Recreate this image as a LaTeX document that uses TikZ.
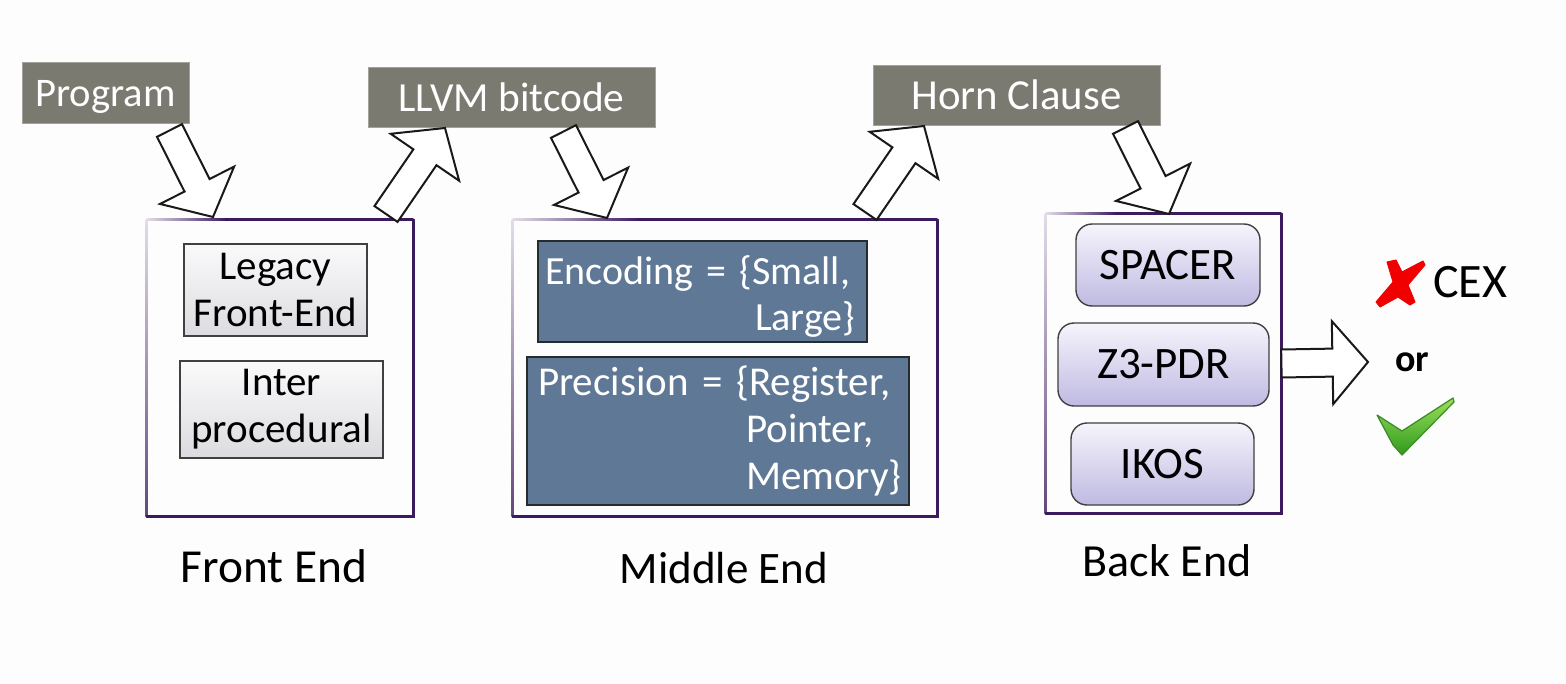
\documentclass[tikz,border=0pt]{standalone}
\usepackage{fontspec}
\setmainfont{Carlito}
\usetikzlibrary{calc}
\definecolor{pagebg}{HTML}{FDFDFD}
\definecolor{tagfill}{HTML}{7A7A70}
\definecolor{panelline}{HTML}{3B1A5E}
\definecolor{bluefill}{HTML}{5F7896}
\definecolor{blueline}{HTML}{262B30}
\definecolor{lavbot}{HTML}{BFBAE2}
\definecolor{lavtop}{HTML}{F6F4FC}
\definecolor{greytop}{HTML}{FAFAFB}
\definecolor{greybot}{HTML}{DCDCE0}
\definecolor{crossred}{HTML}{F00000}
\definecolor{ticktop}{HTML}{9ADF5A}
\definecolor{tickbot}{HTML}{2F9A1E}
\definecolor{tickline}{HTML}{3C8A26}
\tikzset{
  tagbox/.style={fill=tagfill,draw=tagfill!70!white,line width=.3pt,text=white,inner sep=0pt,text height=14.5pt,text depth=0pt},
  panelbox/.style={inner sep=0pt},
  greybox/.style={draw=black!75,line width=.6pt,top color=greytop,bottom color=greybot,inner sep=0pt,align=center,font=\fontsize{20.5}{23.6}\selectfont},
  bluebox/.style={draw=blueline,line width=.9pt,fill=bluefill,text=white,inner ysep=0pt,align=left},
  lavbox/.style={draw=black!75,line width=.7pt,rounded corners=8pt,top color=lavtop,bottom color=lavbot,inner sep=0pt,text height=14pt,text depth=0pt,font=\fontsize{22.5}{24}\selectfont},
  caption/.style={anchor=base,inner sep=0pt,font=\fontsize{23}{27}\selectfont},
  blockarrow/.style={draw=black!90,line width=1pt,fill=white,line join=miter},
}
% block arrow from tail #1 to tip #2
\newcommand{\blockarrow}[2]{%
  \draw[blockarrow]
    ($(#1)!7pt!90:(#2)$) --
    ($(#2)!17.75pt!(#1)!7pt!-90:(#1)$) --
    ($(#2)!17.75pt!(#1)!20.75pt!-90:(#1)$) --
    (#2) --
    ($(#2)!17.75pt!(#1)!20.75pt!90:(#1)$) --
    ($(#2)!17.75pt!(#1)!7pt!90:(#1)$) --
    ($(#1)!7pt!-90:(#2)$) -- cycle;}
% hand-drawn looking panel outline: faded at the top left
\newcommand{\panelframe}[1]{%
  \fill[left color=panelline!15,right color=panelline] ($(#1.north west)+(0,.6pt)$) rectangle ($($(#1.north west)!.3!(#1.north east)$)+(0,-.6pt)$);
  \fill[panelline] ($($(#1.north west)!.3!(#1.north east)$)+(0,.6pt)$) rectangle ($(#1.north east)+(0,-.6pt)$);
  \fill[top color=panelline!15,bottom color=panelline!80] ($(#1.north west)+(-.5pt,0)$) rectangle ($(#1.south west)+(.5pt,0)$);
  \draw[panelline,line width=1.2pt,line cap=round] (#1.north east) -- (#1.south east) -- (#1.south west);}
\begin{document}
\begin{tikzpicture}[x=.5pt,y=-.5pt]
\useasboundingbox[fill=pagebg] (0,0) rectangle (1566,684);

% panels
\node[panelbox,minimum width=133pt,minimum height=148pt] (front) at (280,368) {};
\node[panelbox,minimum width=212pt,minimum height=148pt] (middle) at (725,368) {};
\node[panelbox,minimum width=117.5pt,minimum height=149.5pt] (back) at (1163.5,363.5) {};
\panelframe{front}
\panelframe{middle}
\panelframe{back}

% tags
\node[tagbox,font=\fontsize{20.3}{24}\selectfont,minimum width=83.5pt,minimum height=30.5pt] (program) at (105.5,92.5) {Program};
\node[tagbox,font=\fontsize{20.7}{24}\selectfont,minimum width=143.5pt,minimum height=30pt] (llvm) at (511.5,97) {LLVM bitcode};
\node[tagbox,font=\fontsize{21.4}{24}\selectfont,minimum width=143.5pt,minimum height=30pt] (horn) at (1016.5,95) {Horn Clause};

% front end
\node[greybox,minimum width=91.5pt,minimum height=46pt] (legacy) at (275.5,290) {Legacy\\Front-End};
\node[greybox,minimum width=101.5pt,minimum height=48.5pt] (inter) at (281.5,409.5) {Inter\\procedural};

% middle end
\node[bluebox,font=\fontsize{20}{24}\selectfont,minimum width=164.5pt,minimum height=50.5pt,inner xsep=3.5pt,text width=157.5pt] (encoding) at (702.5,291.5)
  {\raisebox{-2.2pt}{Encoding = \{Small,}\\\hspace*{105pt}\raisebox{-1.5pt}[0pt][0pt]{Large\}}};
\node[bluebox,font=\fontsize{20.5}{23.7}\selectfont,minimum width=191pt,minimum height=74pt,inner xsep=5.5pt,text width=180pt] (precision) at (718,431)
  {Precision = \{Register,\\\hspace*{104pt}Pointer,\\\hspace*{104pt}\mbox{Memory\}}};

% back end
\node[lavbox,minimum width=92pt,minimum height=41pt] (spacer) at (1168,265) {SPACER};
\node[lavbox,minimum width=105.5pt,minimum height=41.5pt] (z3) at (1163.5,364.5) {Z3-PDR};
\node[lavbox,minimum width=91.5pt,minimum height=41pt] (ikos) at (1162.5,464) {IKOS};

% captions
\node[caption,font=\fontsize{23.7}{27}\selectfont] (frontcap) at (274,582) {Front End};
\node[caption,font=\fontsize{22.5}{27}\selectfont] (middlecap) at (724,583) {Middle End};
\node[caption] (backcap) at (1167,576) {Back End};

% results
\node[anchor=base,inner sep=0pt,font=\fontsize{24}{24}\selectfont] (cex) at (1470,297) {CEX};
\node[anchor=base,inner sep=0pt,font=\fontsize{19}{24}\bfseries\selectfont] (ortext) at (1412,371) {or};
\fill[crossred,draw=crossred,line width=.5pt,line join=round]
  (1387,262) -- (1396,260) -- (1402,272) -- (1423,261) -- (1425,265) -- (1408,285)
  -- (1415,302) -- (1410,305) -- (1398,297) -- (1380,307) -- (1376,302) -- (1393,282) -- cycle;
\path[top color=ticktop,bottom color=tickbot,draw=tickline,line width=.6pt,line join=round]
  (1377,415) -- (1402,431) -- (1453,398) -- (1454,402) -- (1402,455) -- (1393,445) -- cycle;

% connectors
\coordinate (a1t) at (169.5,130.5);
\coordinate (a1h) at (213,217);
\coordinate (a2t) at (386,214);
\coordinate (a2h) at (445,128);
\coordinate (a3t) at (563.5,131.5);
\coordinate (a3h) at (607,218);
\coordinate (a4t) at (865,212);
\coordinate (a4h) at (924,126);
\coordinate (a5t) at (1125.5,127.5);
\coordinate (a5h) at (1169,214);
\coordinate (a6t) at (back.east);
\coordinate (a6h) at (1368,362);
\blockarrow{a1t}{a1h}
\blockarrow{a2t}{a2h}
\blockarrow{a3t}{a3h}
\blockarrow{a4t}{a4h}
\blockarrow{a5t}{a5h}
\blockarrow{a6t}{a6h}
\end{tikzpicture}
\end{document}
